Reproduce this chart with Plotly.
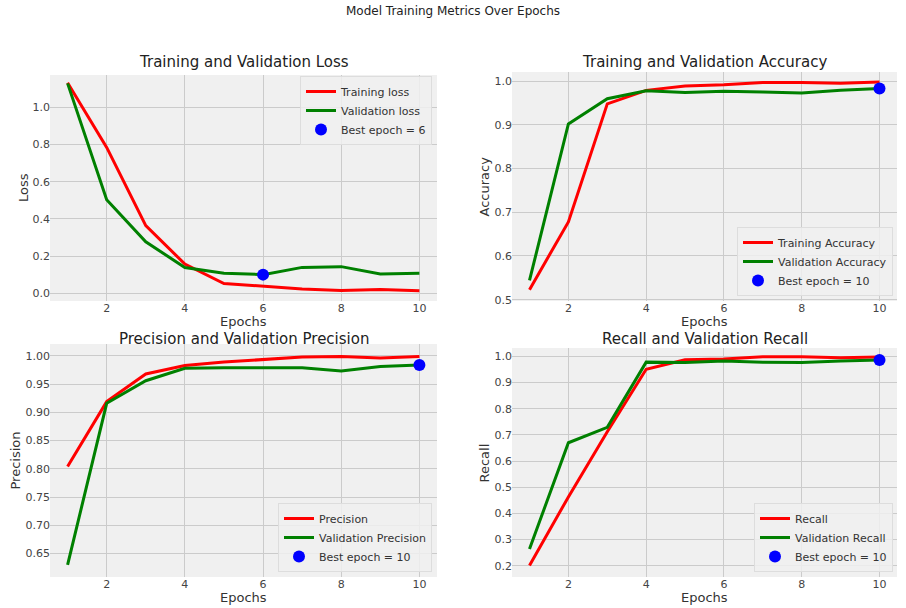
import plotly.graph_objects as go

epochs = [1, 2, 3, 4, 5, 6, 7, 8, 9, 10]

train_loss = [1.133, 0.785, 0.364, 0.157, 0.052, 0.036, 0.023, 0.015, 0.020, 0.013]
val_loss = [1.130, 0.503, 0.277, 0.138, 0.108, 0.100, 0.139, 0.143, 0.103, 0.108]

train_acc = [0.523, 0.678, 0.948, 0.979, 0.989, 0.992, 0.997, 0.997, 0.995, 0.998]
val_acc = [0.544, 0.902, 0.960, 0.978, 0.974, 0.977, 0.975, 0.973, 0.979, 0.983]

train_prec = [0.804, 0.919, 0.968, 0.983, 0.989, 0.993, 0.998, 0.999, 0.996, 0.999]
val_prec = [0.630, 0.916, 0.956, 0.978, 0.979, 0.979, 0.979, 0.973, 0.981, 0.984]

train_rec = [0.201, 0.463, 0.712, 0.951, 0.987, 0.990, 0.999, 0.999, 0.995, 0.998]
val_rec = [0.264, 0.670, 0.729, 0.978, 0.977, 0.982, 0.978, 0.977, 0.982, 0.986]

best_loss_epoch = 6
best_acc_epoch = 10
best_prec_epoch = 10
best_rec_epoch = 10

W, H = 906, 608
FONT = "DejaVu Sans"


def py(pix):
    return 1 - pix / H


def px(pix):
    return pix / W


panels = [
    dict(title="Training and Validation Loss", ylabel="Loss", tr=train_loss, va=val_loss,
         trn="Training loss", van="Validation loss", best=best_loss_epoch, bestv=val_loss[best_loss_epoch - 1],
         xp=(50, 437), yp=(75, 301), yr=[-0.042, 1.175], dtick=0.2, fmt=".1f",
         title_y=62, xlab_y=321, ylab_x=23,
         leg=dict(x=px(432), y=py(76), xanchor="right", yanchor="top")),
    dict(title="Training and Validation Accuracy", ylabel="Accuracy", tr=train_acc, va=val_acc,
         trn="Training Accuracy", van="Validation Accuracy", best=best_acc_epoch, bestv=val_acc[best_acc_epoch - 1],
         xp=(512, 897), yp=(72, 301), yr=[0.497, 1.021], dtick=0.1, fmt=".1f",
         title_y=62, xlab_y=321, ylab_x=484,
         leg=dict(x=px(893), y=py(296), xanchor="right", yanchor="bottom")),
    dict(title="Precision and Validation Precision", ylabel="Precision", tr=train_prec, va=val_prec,
         trn="Precision", van="Validation Precision", best=best_prec_epoch, bestv=val_prec[best_prec_epoch - 1],
         xp=(50, 437), yp=(344, 577), yr=[0.6085, 1.021], dtick=0.05, fmt=".2f",
         title_y=339, xlab_y=597, ylab_x=15,
         leg=dict(x=px(432), y=py(572), xanchor="right", yanchor="bottom")),
    dict(title="Recall and Validation Recall", ylabel="Recall", tr=train_rec, va=val_rec,
         trn="Recall", van="Validation Recall", best=best_rec_epoch, bestv=val_rec[best_rec_epoch - 1],
         xp=(512, 897), yp=(348, 577), yr=[0.157, 1.032], dtick=0.1, fmt=".1f",
         title_y=339, xlab_y=597, ylab_x=484,
         leg=dict(x=px(893), y=py(572), xanchor="right", yanchor="bottom")),
]

fig = go.Figure()
layout = dict(
    width=W, height=H,
    margin=dict(l=0, r=0, t=0, b=0),
    paper_bgcolor="white",
    plot_bgcolor="#f0f0f0",
    font=dict(family=FONT, color="#444", size=11),
    showlegend=True,
    annotations=[],
)

for i, p in enumerate(panels):
    n = i + 1
    xa = "x" if n == 1 else f"x{n}"
    ya = "y" if n == 1 else f"y{n}"
    lg = "legend" if n == 1 else f"legend{n}"
    fig.add_trace(go.Scatter(x=epochs, y=p["tr"], mode="lines", name=p["trn"],
                             line=dict(color="red", width=3), xaxis=xa, yaxis=ya, legend=lg))
    fig.add_trace(go.Scatter(x=epochs, y=p["va"], mode="lines", name=p["van"],
                             line=dict(color="green", width=3), xaxis=xa, yaxis=ya, legend=lg))
    fig.add_trace(go.Scatter(x=[p["best"]], y=[p["bestv"]], mode="markers",
                             name=f"Best epoch = {p['best']}",
                             marker=dict(color="blue", size=12), xaxis=xa, yaxis=ya, legend=lg))
    xkey = "xaxis" if n == 1 else f"xaxis{n}"
    ykey = "yaxis" if n == 1 else f"yaxis{n}"
    xd = [px(p["xp"][0]), px(p["xp"][1])]
    yd = [py(p["yp"][1]), py(p["yp"][0])]
    layout[xkey] = dict(domain=xd, anchor=ya, range=[0.55, 10.45], tickvals=[2, 4, 6, 8, 10],
                        showgrid=True, gridcolor="#cbcbcb", gridwidth=1, zeroline=False,
                        showline=False, ticks="", tickfont=dict(size=11, color="#444"),
                        ticklabelstandoff=-1, automargin=False)
    layout[ykey] = dict(domain=yd, anchor=xa, range=p["yr"], dtick=p["dtick"], tick0=0,
                        tickformat=p["fmt"], showgrid=True, gridcolor="#cbcbcb", gridwidth=1,
                        zeroline=False, showline=False, ticks="", tickfont=dict(size=11, color="#444"),
                        ticklabelstandoff=-1, automargin=False)
    layout[lg] = dict(**p["leg"], xref="paper", yref="paper", bgcolor="rgba(240,240,240,0.85)",
                      bordercolor="#dddddd", borderwidth=1, font=dict(size=11, color="#333"),
                      tracegroupgap=0, itemwidth=30)
    cx = (xd[0] + xd[1]) / 2
    layout["annotations"].append(dict(
        text=p["title"], x=cx, y=py(p["title_y"]), xref="paper", yref="paper",
        xanchor="center", yanchor="middle", showarrow=False, font=dict(size=15, color="#222")))
    layout["annotations"].append(dict(
        text="Epochs", x=cx, y=py(p["xlab_y"]), xref="paper", yref="paper",
        xanchor="center", yanchor="middle", showarrow=False, font=dict(size=13, color="#333")))
    layout["annotations"].append(dict(
        text=p["ylabel"], x=px(p["ylab_x"]), y=(yd[0] + yd[1]) / 2, xref="paper", yref="paper",
        xanchor="center", yanchor="middle", textangle=-90, showarrow=False,
        font=dict(size=13, color="#333")))

layout["annotations"].append(dict(text="Model Training Metrics Over Epochs", x=0.5, y=py(11), xref="paper",
                                  yref="paper", xanchor="center", yanchor="middle",
                                  showarrow=False, font=dict(size=12, color="#222")))
fig.update_layout(**layout)
fig.write_html("out.html", config={"displayModeBar": False},
               post_script="document.body.style.margin='0';document.body.style.overflow='hidden';")
